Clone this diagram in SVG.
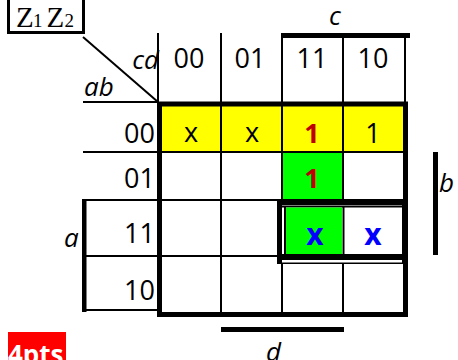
<svg xmlns="http://www.w3.org/2000/svg" width="458" height="360" viewBox="0 0 458 360">
<style>
.t{font-family:"Open Sans","Noto Sans",sans-serif;font-size:27px;fill:#000}
.i{font-style:italic;font-size:26px}
.m{text-anchor:middle}
.e{text-anchor:end}
.ln{stroke:#000;stroke-width:2;fill:none}
.bar{fill:#000}
.red{fill:#C00000;font-weight:bold}
.blue{fill:#0000FF;font-weight:bold;font-size:30px}
.z{font-family:"Liberation Serif","Times New Roman",serif;fill:#000}
</style>
<rect width="458" height="360" fill="#fff"/>

<g id="title">
  <rect x="8.5" y="-2" width="75" height="34.5" fill="none" stroke="#000" stroke-width="3"/>
  <text class="z" y="27"><tspan x="16" font-size="29">Z</tspan><tspan x="33" font-size="19">1</tspan><tspan x="46.5" font-size="29">Z</tspan><tspan x="64.5" font-size="19">2</tspan></text>
</g>

<g id="fills">
  <rect x="158" y="104" width="247" height="48" fill="#FFFF00"/>
  <rect x="282" y="152" width="61" height="48" fill="#00FF00"/>
</g>

<g id="grid">
  <line class="ln" x1="83" y1="37" x2="158" y2="102" stroke-width="1.3"/>
  <line class="ln" x1="158" y1="33" x2="158" y2="104"/>
  <line class="ln" x1="405" y1="33" x2="405" y2="104"/>
  <line class="ln" x1="221" y1="33" x2="221" y2="314"/>
  <line class="ln" x1="282" y1="33" x2="282" y2="314"/>
  <line class="ln" x1="343" y1="33" x2="343" y2="314"/>
  <line class="ln" x1="83" y1="102" x2="158" y2="102"/>
  <line class="ln" x1="83" y1="152" x2="405" y2="152"/>
  <line class="ln" x1="82" y1="200" x2="405" y2="200"/>
  <line class="ln" x1="84" y1="256" x2="405" y2="256"/>
  <line class="ln" x1="82" y1="310" x2="158" y2="310" stroke-width="3.5"/>
  <rect x="159.5" y="104" width="246" height="210.5" fill="none" stroke="#000" stroke-width="5"/>
</g>

<g id="group-x">
  <rect x="277" y="199" width="131" height="65" fill="#000"/>
  <rect x="282" y="205" width="120" height="57.5" fill="#fff"/>
  <line class="ln" x1="282" y1="206.5" x2="402" y2="206.5" stroke-width="1.5"/>
  <line class="ln" x1="285" y1="206" x2="285" y2="260" stroke-width="2"/>
  <rect x="282" y="254" width="120" height="6" fill="#000"/>
  <rect x="286" y="207.5" width="56" height="46.5" fill="#00FF00"/>
  <line class="ln" x1="343.5" y1="207" x2="343.5" y2="254"/>
  <rect x="402" y="199" width="6" height="65" fill="#000"/>
</g>

<g id="brackets">
  <rect class="bar" x="282" y="33" width="128" height="5"/>
  <rect class="bar" x="433" y="152" width="5" height="103"/>
  <rect class="bar" x="82" y="199" width="4.5" height="113"/>
  <rect class="bar" x="221" y="327" width="123" height="5"/>
</g>

<g id="labels">
  <text class="t i e" x="159" y="69">cd</text>
  <text class="t i" x="84" y="96">ab</text>
  <text class="t i" x="329" y="25">c</text>
  <text class="t i" x="439" y="192">b</text>
  <text class="t i" x="64" y="247">a</text>
  <text class="t i" x="266" y="361">d</text>
  <text class="t m" x="189" y="68">00</text>
  <text class="t m" x="250" y="68">01</text>
  <text class="t m" x="312" y="68">11</text>
  <text class="t m" x="373" y="68">10</text>
  <text class="t e" x="155" y="143">00</text>
  <text class="t e" x="155" y="188">01</text>
  <text class="t e" x="155" y="243">11</text>
  <text class="t e" x="155" y="300">10</text>
</g>

<g id="cells">
  <text class="t m" x="191" y="142">x</text>
  <text class="t m" x="252" y="142">x</text>
  <text class="t m red" x="312" y="143">1</text>
  <text class="t m" x="373" y="143">1</text>
  <text class="t m red" x="312" y="188">1</text>
  <text class="t m blue" x="315" y="245">x</text>
  <text class="t m blue" x="373" y="245">x</text>
</g>

<g id="score">
  <rect x="8" y="332" width="58" height="28" fill="#FF0000"/>
  <text x="8" y="364" font-family="'Open Sans','Noto Sans',sans-serif" font-weight="bold" font-size="26" fill="#fff">4pts</text>
</g>
</svg>
